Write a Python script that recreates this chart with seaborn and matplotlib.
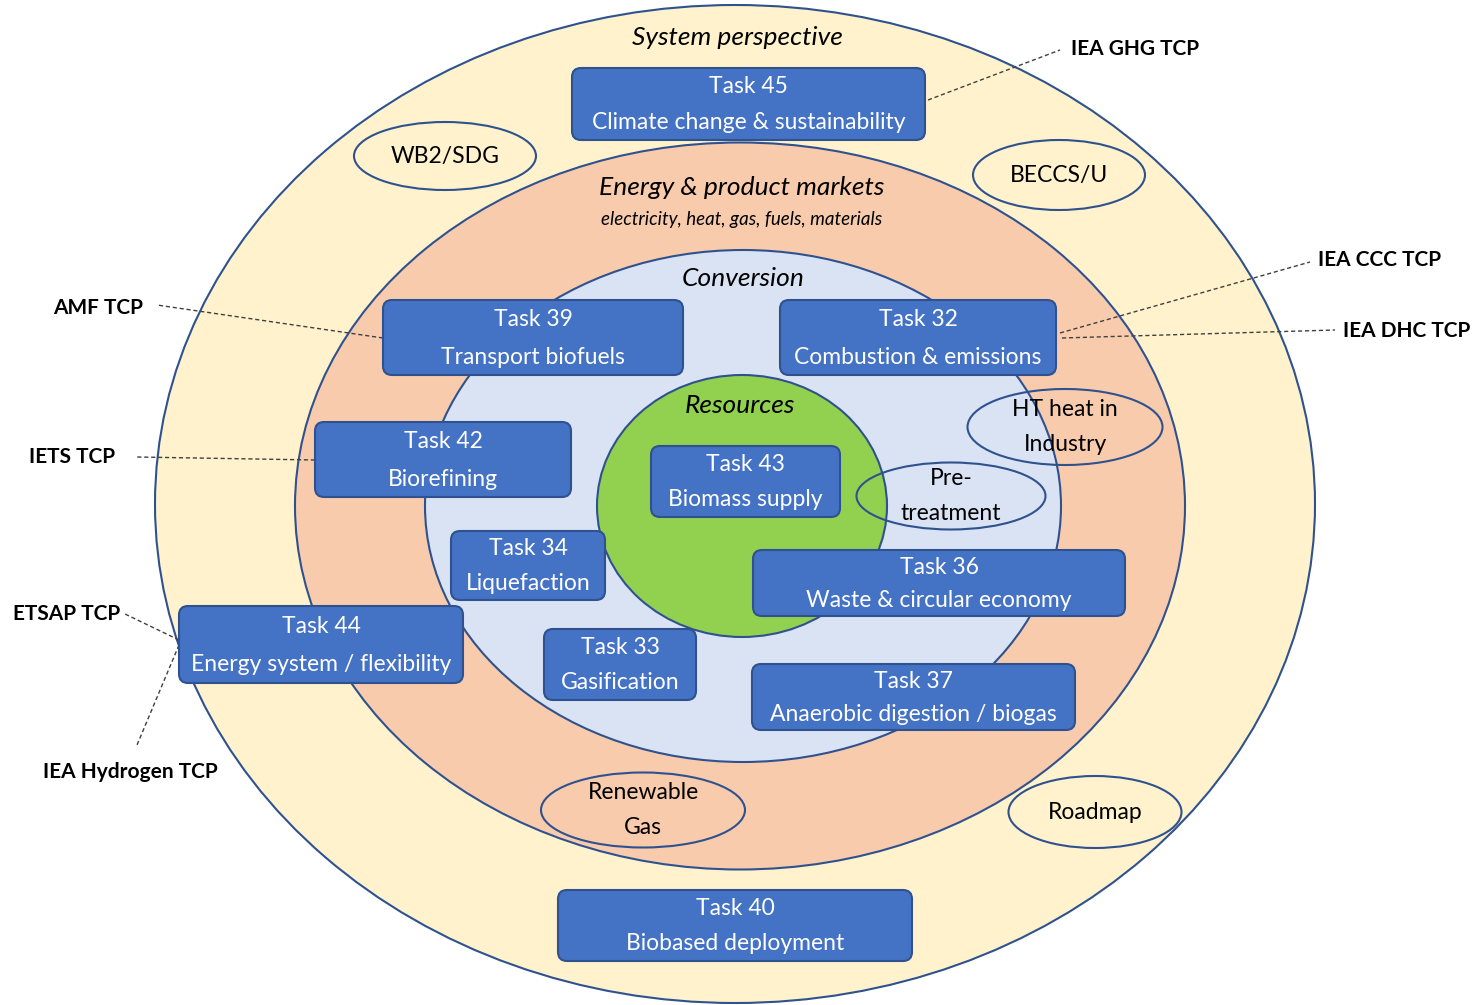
import numpy as np
import pandas as pd
import matplotlib
matplotlib.use("Agg")
import matplotlib.pyplot as plt
import seaborn as sns
from matplotlib.patches import Ellipse, FancyBboxPatch

sns.set_theme(style="white")
plt.rcParams['font.family'] = ['Lato', 'DejaVu Sans']
plt.rcParams['text.color'] = 'black'

# rings: label, centre x, centre y, width, height, fill
ring_names = ["System perspective", "Energy & product markets", "Conversion", "Resources"]
ring_cx = [735, 740, 743, 742]
ring_cy = [504, 506, 506, 506]
ring_w = [1160, 890, 636, 290]
ring_h = [998, 727, 512, 262]
ring_fill = ["#FFF2CC", "#F8CBAD", "#DAE3F3", "#92D050"]
ring_label_y = [37, 187, 278, 405]
ring_label_x = [737, 742, 743, 740]

# task boxes
task_ids = ["Task 45", "Task 39", "Task 32", "Task 42", "Task 43", "Task 34",
            "Task 36", "Task 44", "Task 33", "Task 37", "Task 40"]
task_names = ["Climate change & sustainability", "Transport biofuels",
              "Combustion & emissions", "Biorefining", "Biomass supply",
              "Liquefaction", "Waste & circular economy",
              "Energy system / flexibility", "Gasification",
              "Anaerobic digestion / biogas", "Biobased deployment"]
task_x0 = [572, 383, 780, 315, 651, 451, 753, 179, 544, 752, 558]
task_x1 = [925, 683, 1056, 571, 840, 605, 1125, 463, 696, 1075, 912]
task_y0 = [68, 300, 300, 422, 446, 531, 550, 606, 629, 664, 890]
task_y1 = [140, 375, 375, 497, 517, 600, 616, 683, 700, 730, 961]

# topic ovals
topic_names = ["WB2/SDG", "BECCS/U", "HT heat in\nIndustry", "Pre-\ntreatment",
               "Renewable\nGas", "Roadmap"]
topic_cx = [445, 1059, 1065, 951, 643, 1095]
topic_cy = [156, 175, 427, 496, 810, 812]
topic_w = [182, 172, 195, 189, 204, 173]
topic_h = [68, 70, 76, 67, 75, 72]

# external TCP links
tcp_names = ["IEA GHG TCP", "IEA CCC TCP", "IEA DHC TCP", "AMF TCP",
             "IETS TCP", "ETSAP TCP", "IEA Hydrogen TCP"]
tcp_tx = [1135, 1380, 1407, 98, 72, 67, 130]
tcp_ty = [49, 260, 331, 308, 457, 614, 772]
tcp_lx0 = [928, 1060, 1062, 383, 315, 179, 179]
tcp_ly0 = [100, 333, 338, 338, 460, 640, 645]
tcp_lx1 = [1060, 1310, 1335, 157, 137, 125, 137]
tcp_ly1 = [50, 262, 330, 305, 457, 614, 745]

edge = "#2F528F"
box_col = "#4472C4"

fig = plt.figure(figsize=(14.75, 10.05), dpi=100)
ax = fig.add_axes([0, 0, 1, 1])
ax.set_xlim(0, 1475)
ax.set_ylim(1005, 0)
ax.axis("off")

for i in range(len(ring_names)):
    ax.add_patch(Ellipse((ring_cx[i], ring_cy[i]), ring_w[i], ring_h[i],
                         facecolor=ring_fill[i], edgecolor=edge, lw=1.5, zorder=1 + i))

for i in range(len(tcp_names)):
    ax.plot([tcp_lx0[i], tcp_lx1[i]], [tcp_ly0[i], tcp_ly1[i]], ls=(0, (3, 2)),
            color="#404040", lw=1, zorder=6)
    ax.text(tcp_tx[i], tcp_ty[i], tcp_names[i], ha="center", va="center",
            fontsize=15, fontweight="bold", color="black", zorder=10)

for i, name in enumerate(ring_names):
    ax.text(ring_label_x[i], ring_label_y[i], name, ha="center", va="center",
            fontsize=19, style="italic", color="black", zorder=10)
ax.text(742, 219, "electricity, heat, gas, fuels, materials", ha="center", va="center",
        fontsize=13.5, style="italic", color="black", zorder=10)

for i in range(len(task_ids)):
    w = task_x1[i] - task_x0[i]
    h = task_y1[i] - task_y0[i]
    ax.add_patch(FancyBboxPatch((task_x0[i], task_y0[i]), w, h,
                                boxstyle="round,pad=0,rounding_size=9",
                                facecolor=box_col, edgecolor=edge, lw=1.5, zorder=7))
    cx = (task_x0[i] + task_x1[i]) / 2
    ax.text(cx, task_y0[i] + h * 0.26, task_ids[i], ha="center", va="center",
            color="white", fontsize=16.5, zorder=8)
    ax.text(cx, task_y0[i] + h * 0.76, task_names[i], ha="center", va="center",
            color="white", fontsize=16.5, zorder=8)

for i in range(len(topic_names)):
    ax.add_patch(Ellipse((topic_cx[i], topic_cy[i]), topic_w[i], topic_h[i],
                         facecolor="none", edgecolor=edge, lw=1.5, zorder=8))
    ax.text(topic_cx[i], topic_cy[i], topic_names[i], ha="center", va="center",
            fontsize=16.5, linespacing=1.8, color="black", zorder=9)

fig.savefig("out.png", dpi=100, facecolor="white")
